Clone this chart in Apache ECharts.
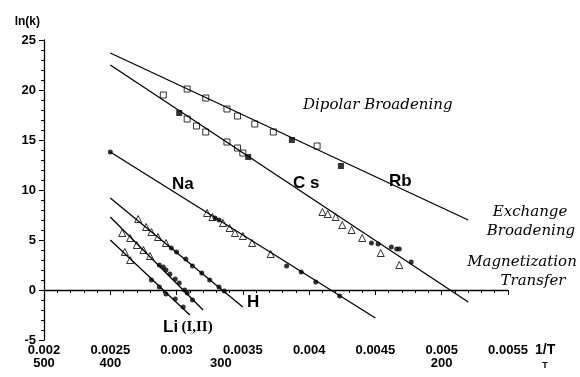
<!DOCTYPE html>
<html>
<head>
<meta charset="utf-8">
<script src="https://cdn.jsdelivr.net/npm/echarts@6.0.0/dist/echarts.min.js"></script>
<style>
  html, body { margin: 0; padding: 0; background: #fff; }
  #chart { width: 580px; height: 377px; }
</style>
</head>
<body>
<div id="chart"></div>
<script>
// fitted lines: [start, end] in (1/T, ln k)
var rbLine = [[0.0025, 23.7], [0.0052, 7.0]];
var csLine = [[0.0025, 22.5], [0.0052, -1.2]];
var naLine = [[0.0025, 13.8], [0.0045, -2.8]];
var hLine = [[0.0025, 9.2], [0.0035, -1.7]];
var liALine = [[0.0025, 7.3], [0.0032, -2.0]];
var liBLine = [[0.0025, 5.0], [0.0031, -2.5]];

// measured points
var rbOpen = [[0.00308, 20.1], [0.00322, 19.2], [0.00338, 18.1], [0.00346, 17.4], [0.00359, 16.6], [0.00373, 15.8], [0.00406, 14.4]];
var rbFilled = [[0.00387, 15.0], [0.00424, 12.4]];
var csOpen = [[0.0029, 19.5], [0.00308, 17.1], [0.00315, 16.4], [0.00322, 15.8], [0.00338, 14.8], [0.00346, 14.2], [0.0035, 13.7]];
var csFilled = [[0.00302, 17.7], [0.00354, 13.3]];
var csTri = [[0.0041, 7.8], [0.00414, 7.6], [0.0042, 7.3], [0.00425, 6.5], [0.00432, 6.0], [0.0044, 5.2], [0.00454, 3.7], [0.00468, 2.5]];
var csDots = [[0.00447, 4.7], [0.00452, 4.6], [0.00462, 4.3], [0.00466, 4.1], [0.00468, 4.1], [0.00477, 2.8]];
var naTri = [[0.00323, 7.7], [0.00327, 7.3], [0.00335, 6.7], [0.0034, 6.2], [0.00344, 5.7], [0.0035, 5.4], [0.00357, 4.7], [0.00371, 3.6]];
var naDots = [[0.0025, 13.8], [0.00329, 7.2], [0.00332, 7.0], [0.00383, 2.4], [0.00394, 1.8], [0.00405, 0.8], [0.00423, -0.6]];
var hTri = [[0.00271, 7.1], [0.00277, 6.3], [0.00281, 5.8], [0.00286, 5.3], [0.00292, 4.7]];
var hDots = [[0.00296, 4.2], [0.003, 3.8], [0.00307, 3.1], [0.00312, 2.4], [0.00319, 1.7], [0.00325, 1.0], [0.00332, 0.3], [0.00336, -0.1]];
var liATri = [[0.00259, 5.7], [0.00265, 5.2], [0.0027, 4.5], [0.00275, 4.0], [0.0028, 3.4]];
var liADots = [[0.00287, 2.5], [0.0029, 2.3], [0.00292, 2.0], [0.00295, 1.6], [0.00299, 1.1], [0.00302, 0.7], [0.00306, 0.0], [0.00308, -0.3], [0.00312, -1.0]];
var liBTri = [[0.00261, 3.8], [0.00265, 3.0]];
var liBDots = [[0.00281, 1.0], [0.00287, 0.3], [0.00292, -0.4], [0.00299, -0.9], [0.00305, -1.7]];

// temperature scale under the 1/T axis
var temps = [500, 400, 300, 200];

var chart = echarts.init(document.getElementById('chart'), null, { renderer: 'canvas' });

function fitLine(data) {
    return {
        type: 'line', data: data, symbol: 'none', silent: true,
        lineStyle: { color: '#000', width: 1.3 }
    };
}
function pts(data, symbol, size, open) {
    return {
        type: 'scatter', data: data, symbol: symbol, symbolSize: size, silent: true,
        itemStyle: open ? { color: '#fff', borderColor: '#000', borderWidth: 1 } : { color: '#000' }
    };
}

var bold = 'bold 17px "Liberation Sans", Arial, sans-serif';
var ital = 'italic 15px "DejaVu Serif", serif';

var option = {
    animation: false,
    backgroundColor: '#fff',
    grid: { left: 44, right: 72, top: 40, bottom: 37 },
    xAxis: [
        {
            type: 'value', min: 0.002, max: 0.0055, interval: 0.0005,
            axisLine: { lineStyle: { color: '#000', width: 1.3 } },
            axisTick: { length: 5, lineStyle: { color: '#000' } },
            minorTick: { show: true, splitNumber: 5, length: 3, lineStyle: { color: '#000' } },
            splitLine: { show: false },
            axisLabel: { color: '#000', fontWeight: 'bold', fontSize: 13, margin: 4, fontFamily: 'Liberation Sans' }
        },
        {
            type: 'value', min: 0.002, max: 0.0055, position: 'bottom',
            axisLine: { show: false }, axisTick: { show: false }, splitLine: { show: false },
            axisLabel: {
                color: '#000', fontWeight: 'bold', fontSize: 13, margin: 17, fontFamily: 'Liberation Sans',
                customValues: temps.map(function (t) { return 1 / t; }),
                formatter: function (v) { return Math.round(1 / v); }
            }
        }
    ],
    yAxis: {
        type: 'value', min: -5, max: 25, interval: 5,
        name: 'ln(k)', nameLocation: 'end', nameGap: 12,
        nameTextStyle: { color: '#000', fontWeight: 'bold', fontSize: 12, align: 'right', padding: [0, 4, 0, 0], fontFamily: 'Liberation Sans' },
        axisLine: { lineStyle: { color: '#000', width: 1.3 } },
        axisTick: { length: 5, lineStyle: { color: '#000' } },
        minorTick: { show: true, splitNumber: 5, length: 3, lineStyle: { color: '#000' } },
        splitLine: { show: false },
        axisLabel: { color: '#000', fontWeight: 'bold', fontSize: 13, margin: 8, fontFamily: 'Liberation Sans' }
    },
    series: [
        fitLine(rbLine), fitLine(csLine), fitLine(naLine), fitLine(hLine), fitLine(liALine), fitLine(liBLine),
        pts(rbOpen, 'rect', 6, true), pts(rbFilled, 'rect', 6, false),
        pts(csOpen, 'rect', 6, true), pts(csFilled, 'rect', 6, false),
        pts(csTri, 'triangle', 7, true), pts(csDots, 'circle', 5, false),
        pts(naTri, 'triangle', 7, true), pts(naDots, 'circle', 5, false),
        pts(hTri, 'triangle', 7, true), pts(hDots, 'circle', 5, false),
        pts(liATri, 'triangle', 7, true), pts(liADots, 'circle', 5, false),
        pts(liBTri, 'triangle', 7, true), pts(liBDots, 'circle', 5, false)
    ],
    graphic: [
        { type: 'text', x: 172, y: 184, style: { text: 'Na', font: bold, fill: '#000', verticalAlign: 'middle' } },
        { type: 'text', x: 293, y: 183, style: { text: 'C s', font: bold, fill: '#000', verticalAlign: 'middle' } },
        { type: 'text', x: 389, y: 181, style: { text: 'Rb', font: bold, fill: '#000', verticalAlign: 'middle' } },
        { type: 'text', x: 247, y: 302, style: { text: 'H', font: bold, fill: '#000', verticalAlign: 'middle' } },
        {
            type: 'text', x: 163, y: 327,
            style: {
                text: '{a|Li} {b|(I,II)}', verticalAlign: 'middle', fill: '#000',
                rich: {
                    a: { font: bold, fill: '#000' },
                    b: { font: 'bold 15px "Liberation Serif", serif', fill: '#000' }
                }
            }
        },
        { type: 'text', x: 303, y: 105, style: { text: 'Dipolar Broadening', font: ital, fill: '#000', verticalAlign: 'middle' } },
        { type: 'text', x: 530, y: 212, style: { text: 'Exchange', font: ital, fill: '#000', align: 'center', verticalAlign: 'middle' } },
        { type: 'text', x: 531, y: 231, style: { text: 'Broadening', font: ital, fill: '#000', align: 'center', verticalAlign: 'middle' } },
        { type: 'text', x: 522, y: 262, style: { text: 'Magnetization', font: ital, fill: '#000', align: 'center', verticalAlign: 'middle' } },
        { type: 'text', x: 533, y: 281, style: { text: 'Transfer', font: ital, fill: '#000', align: 'center', verticalAlign: 'middle' } },
        { type: 'text', x: 535, y: 350, style: { text: '1/T', font: 'bold 14px "Liberation Sans", sans-serif', fill: '#000', verticalAlign: 'middle' } },
        { type: 'text', x: 545, y: 366, style: { text: 'T', font: 'bold 9px "Liberation Sans", sans-serif', fill: '#000', align: 'center', verticalAlign: 'middle' } }
    ]
};
chart.setOption(option);
</script>
</body>
</html>
